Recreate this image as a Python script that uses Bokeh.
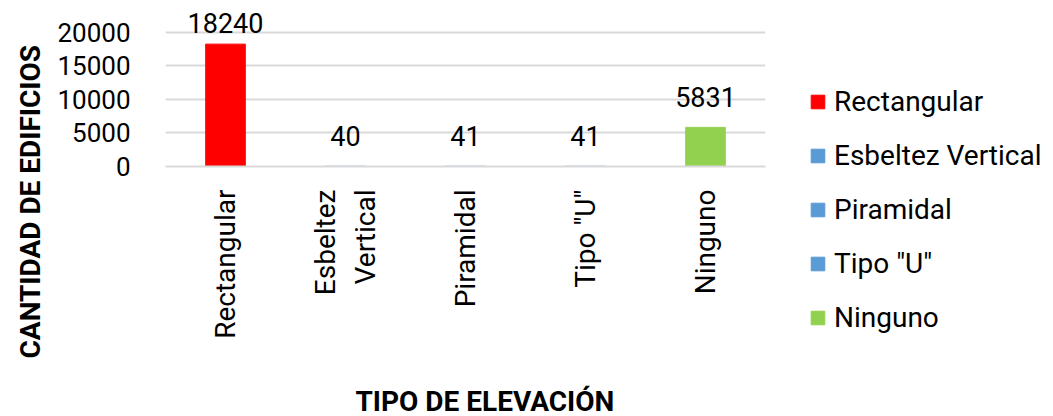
import numpy as np
from math import pi
from bokeh.plotting import figure
from bokeh.models import (ColumnDataSource, Range1d, FixedTicker, Title, Legend, LegendItem)
from bokeh.core.properties import value
from bokeh.embed import file_html
from bokeh.resources import INLINE

# Building counts by elevation type
categories = ["Rectangular", "Esbeltez Vertical", "Piramidal", 'Tipo "U"', "Ninguno"]
tick_labels = ["Rectangular", "Esbeltez\nVertical", "Piramidal", 'Tipo "U"', "Ninguno"]
counts = [18240, 40, 41, 41, 5831]
colors = ["#FF0000", "#5B9BD5", "#5B9BD5", "#5B9BD5", "#92D050"]
y_ticks = [0, 5000, 10000, 15000, 20000]

FONT = "Roboto"
NUM = "27px"     # value labels
TICK = "26px"    # y tick labels
TXT = "28px"     # category names
TITLE = "28px"

# keep the tallest value label inside the canvas
label_y = list(np.minimum(counts, 16900))

src = ColumnDataSource(dict(cat=tick_labels, val=counts, color=colors,
                            ly=label_y, txt=[str(c) for c in counts]))

p = figure(frame_width=600, frame_height=161, x_range=tick_labels,
           y_range=Range1d(0, 24000),
           output_backend="svg", toolbar_location=None,
           min_border_left=165, min_border_right=288, min_border_top=5,
           min_border_bottom=250)
p.outline_line_color = None
p.background_fill_color = "white"
p.border_fill_color = "white"

bars = p.vbar(x="cat", top="val", width=0.33, color="color", source=src)

p.text(x="cat", y="ly", text="txt", source=src, text_align="center",
       text_baseline="bottom", y_offset=-20, text_font=value(FONT),
       text_font_size=NUM, text_color="#000000")

# axes
p.yaxis.ticker = FixedTicker(ticks=y_ticks)
p.yaxis.axis_line_color = None
p.yaxis.major_tick_line_color = None
p.yaxis.minor_tick_line_color = None
p.yaxis.major_label_standoff = 29
p.yaxis.major_label_text_font = FONT
p.yaxis.major_label_text_font_size = TICK
p.yaxis.major_label_text_color = "#000000"

p.xaxis.axis_line_color = "#D9D9D9"
p.xaxis.axis_line_width = 2
p.xaxis.major_tick_line_color = None
p.xaxis.minor_tick_line_color = None
p.xaxis.major_label_orientation = pi / 2
p.xaxis.major_label_standoff = 17
p.xaxis.major_label_text_font = FONT
p.xaxis.major_label_text_font_size = TXT
p.xaxis.major_label_text_color = "#000000"

p.xgrid.grid_line_color = None
p.ygrid.grid_line_color = "#D9D9D9"
p.ygrid.grid_line_width = 2
p.ygrid.ticker = FixedTicker(ticks=y_ticks)

# axis titles
p.add_layout(Title(text="CANTIDAD DE EDIFICIOS", align="left", offset=-192, standoff=16,
                   text_font=FONT, text_font_style="bold", text_font_size=TITLE,
                   text_color="#000000"), "left")
# gap between the category labels and the horizontal title
p.add_layout(Title(text=" ", standoff=37, text_font_size="1px"), "below")
p.add_layout(Title(text="TIPO DE ELEVACIÓN", align="left", offset=190, standoff=2,
                   text_font=FONT, text_font_style="bold", text_font_size=TITLE,
                   text_color="#000000"), "below")

# legend, one entry per category
items = [LegendItem(label=c, renderers=[bars], index=i) for i, c in enumerate(categories)]
legend = Legend(items=items, location=(44, -168), orientation="vertical",
                glyph_width=17, glyph_height=17, label_standoff=8,
                label_text_font=FONT, label_text_font_size=TXT,
                label_text_color="#000000", spacing=21, padding=0, margin=0,
                border_line_color=None, background_fill_color=None)
p.add_layout(legend, "right")

open("out.html", "w").write(file_html(p, INLINE))
